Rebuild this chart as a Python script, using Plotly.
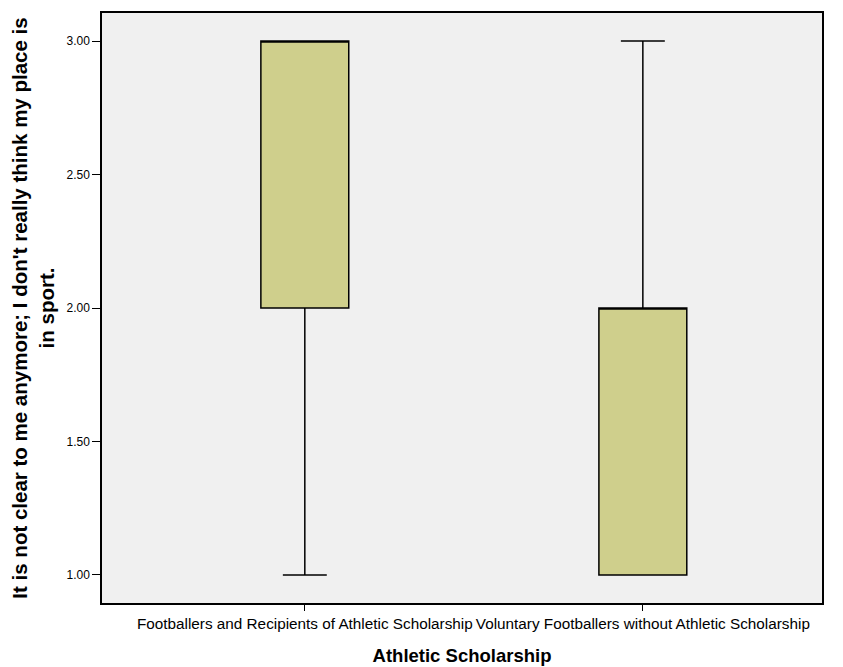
import plotly.graph_objects as go

categories = ["Footballers and Recipients of Athletic Scholarship",
              "Voluntary Footballers without Athletic Scholarship"]
q1 = [2.0, 1.0]
median = [3.0, 2.0]
q3 = [3.0, 2.0]
lowerfence = [1.0, 1.0]
upperfence = [3.0, 3.0]
y_ticks = [1.0, 1.5, 2.0, 2.5, 3.0]

fig = go.Figure()
fig.add_trace(go.Box(
    x=categories, q1=q1, median=median, q3=q3,
    lowerfence=lowerfence, upperfence=upperfence,
    fillcolor="#CFCF8C", line=dict(color="black", width=1.5),
    width=0.26, whiskerwidth=0.5, boxpoints=False, showlegend=False,
    hoverinfo="skip"
))

fig.update_layout(
    width=843, height=667,
    paper_bgcolor="white", plot_bgcolor="#F0F0F0",
    margin=dict(l=94, r=29, t=5, b=72),
    font=dict(family="Arial, Liberation Sans, sans-serif", color="black"),
    xaxis=dict(
        type="category", range=[-0.6, 1.53], automargin=False,
        showline=True, linecolor="black", linewidth=1.5, mirror=True,
        ticks="outside", ticklen=6, tickcolor="black",
        tickfont=dict(size=15.3, family="Liberation Sans Narrow, Arial Narrow, Arial"),
        showgrid=False,
        title=dict(text="<b>Athletic Scholarship</b>", font=dict(size=18.5), standoff=18),
    ),
    yaxis=dict(
        range=[0.895, 3.105], tickvals=y_ticks, tickformat=".2f", automargin=False,
        showline=True, linecolor="black", linewidth=1.5, mirror=True,
        ticks="outside", ticklen=8, tickcolor="black", tickfont=dict(size=12),
        showgrid=False, zeroline=False,
        title=dict(text="<b>It is not clear to me anymore; I don't really think my place is<br>in sport.</b>",
                   font=dict(size=20.5), standoff=12),
    ),
)

fig.write_html("out.html")
